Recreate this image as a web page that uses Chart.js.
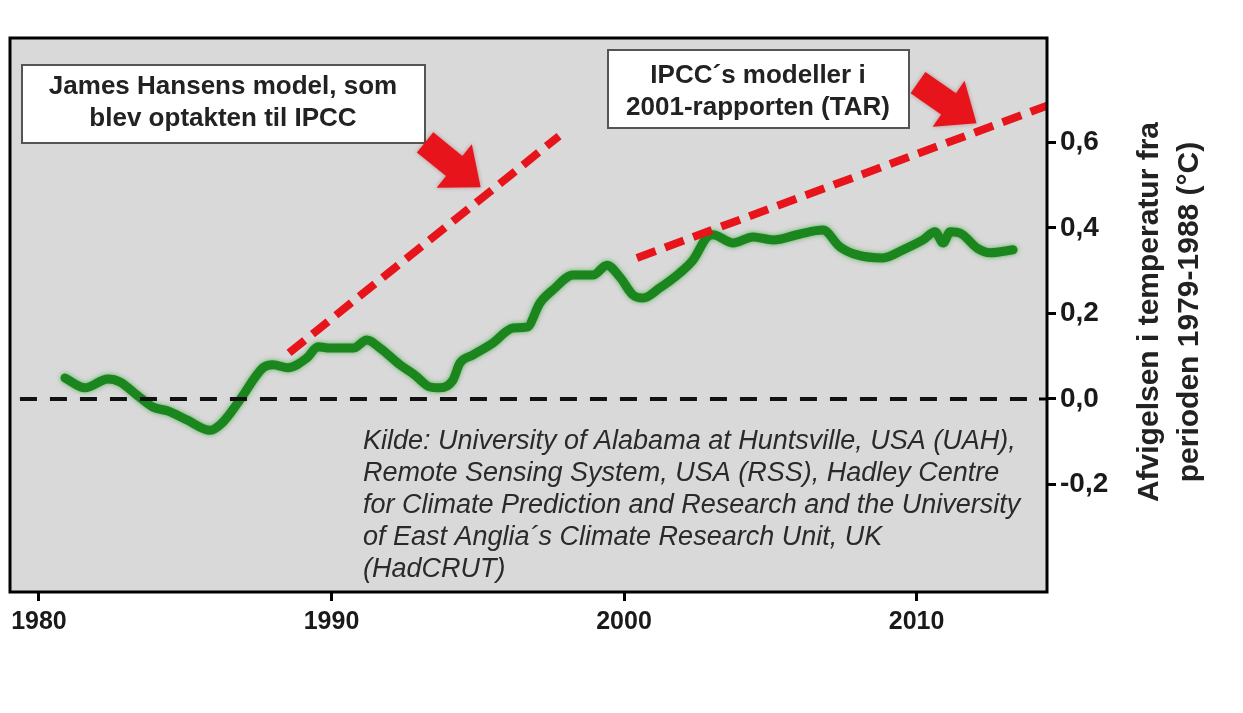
<!DOCTYPE html>
<html lang="da">
<head>
    <meta charset="UTF-8">
    <title>Temperaturafvigelse 1980-2013</title>
    <script src="https://cdn.jsdelivr.net/npm/chart.js"></script>
    <style>
        body { margin: 0; background: #fff; }
    </style>
</head>
<body>
    <canvas id="tempChart" width="1243" height="713"></canvas>

    <script>
        // Målt temperaturafvigelse (glattet)
        const years = [
            1980.89, 1981.57, 1982.36, 1982.77, 1983.35, 1983.90, 1984.41, 1985.06, 1985.85, 1986.26,
            1986.87, 1987.66, 1988.00, 1988.51, 1989.16, 1989.54, 1989.95, 1990.74, 1991.21, 1991.66,
            1992.34, 1992.85, 1993.37, 1993.71, 1994.15, 1994.39, 1994.84, 1995.52, 1996.21, 1996.68,
            1997.13, 1997.57, 1998.26, 1998.94, 1999.42, 1999.86, 2000.31, 2000.65, 2001.23, 2001.91,
            2002.36, 2002.84, 2003.04, 2003.73, 2004.41, 2005.09, 2006.02, 2006.80, 2007.38, 2007.97,
            2008.85, 2009.54, 2010.22, 2010.63, 2010.91, 2011.15, 2011.49, 2012.07, 2012.51, 2013.30
        ];
        const anomaly = [
            0.049, 0.026, 0.047, 0.040, 0.009, -0.019, -0.028, -0.049, -0.073, -0.056,
            -0.002, 0.073, 0.080, 0.073, 0.096, 0.122, 0.119, 0.119, 0.138, 0.119,
            0.080, 0.056, 0.028, 0.026, 0.044, 0.084, 0.103, 0.131, 0.166, 0.168,
            0.225, 0.255, 0.290, 0.290, 0.313, 0.285, 0.243, 0.236, 0.260, 0.295,
            0.325, 0.379, 0.384, 0.365, 0.379, 0.372, 0.386, 0.395, 0.356, 0.337,
            0.330, 0.349, 0.372, 0.391, 0.365, 0.391, 0.388, 0.353, 0.342, 0.349
        ];

        // Modelfremskrivninger (røde stiplede linjer)
        const hansenYears = [1988.55, 1997.78];
        const hansenValues = [0.108, 0.615];
        const tarYears = [2000.44, 2014.46];
        const tarValues = [0.330, 0.686];

        // Nul-linjen
        const zeroYears = [1979.35, 2014.2];
        const zeroValues = [0, 0];

        const xTicks = [1980, 1990, 2000, 2010];
        const yTicks = [-0.2, 0, 0.2, 0.4, 0.6];

        const hansenText = ['James Hansens model, som', 'blev optakten til IPCC'];
        const tarText = ['IPCC´s modeller i', '2001-rapporten (TAR)'];
        const sourceText = [
            'Kilde: University of Alabama at Huntsville, USA (UAH),',
            'Remote Sensing System, USA (RSS), Hadley Centre',
            'for Climate Prediction and Research and the University',
            'of East Anglia´s Climate Research Unit, UK',
            '(HadCRUT)'
        ];
        const yTitle = ['Afvigelsen i temperatur fra', 'perioden 1979-1988 (°C)'];

        const FONT = "'Liberation Sans', Arial, sans-serif";

        function pts(xs, ys) {
            return xs.map((x, i) => ({ x: x, y: ys[i] }));
        }

        function drawArrow(ctx, x1, y1, x2, y2) {
            const len = Math.hypot(x2 - x1, y2 - y1);
            const ang = Math.atan2(y2 - y1, x2 - x1);
            const sw = 13, hw = 28, hl = 34;
            ctx.save();
            ctx.translate(x1, y1);
            ctx.rotate(ang);
            ctx.beginPath();
            ctx.moveTo(0, -sw);
            ctx.lineTo(len - hl, -sw);
            ctx.lineTo(len - hl, -hw);
            ctx.lineTo(len, 0);
            ctx.lineTo(len - hl, hw);
            ctx.lineTo(len - hl, sw);
            ctx.lineTo(0, sw);
            ctx.closePath();
            ctx.shadowColor = 'rgba(120,0,0,0.35)';
            ctx.shadowBlur = 4;
            ctx.fillStyle = '#e8141c';
            ctx.fill();
            ctx.restore();
        }

        function textBox(ctx, x, y, lines, left, top, right, bottom) {
            ctx.save();
            ctx.fillStyle = '#fff';
            ctx.fillRect(left, top, right - left, bottom - top);
            ctx.strokeStyle = '#555';
            ctx.lineWidth = 2;
            ctx.strokeRect(left, top, right - left, bottom - top);
            ctx.fillStyle = '#222';
            ctx.font = 'bold 26px ' + FONT;
            ctx.textAlign = 'center';
            ctx.textBaseline = 'middle';
            lines.forEach((t, i) => ctx.fillText(t, x, y + i * 32));
            ctx.restore();
        }

        const decor = {
            id: 'decor',
            beforeDraw(chart) {
                const { ctx, chartArea: a } = chart;
                ctx.save();
                ctx.fillStyle = '#d9d9d9';
                ctx.fillRect(a.left, a.top, a.right - a.left, a.bottom - a.top);
                ctx.restore();
            },
            beforeDatasetDraw(chart, args) {
                if (args.index === 0) {
                    chart.ctx.shadowColor = 'rgba(40,160,40,0.7)';
                    chart.ctx.shadowBlur = 5;
                }
            },
            afterDatasetDraw(chart) {
                chart.ctx.shadowColor = 'transparent';
                chart.ctx.shadowBlur = 0;
            },
            afterDraw(chart) {
                const { ctx, chartArea: a, scales } = chart;
                const X = v => scales.x.getPixelForValue(v);
                const Y = v => scales.y.getPixelForValue(v);

                // ramme
                ctx.save();
                ctx.strokeStyle = '#000';
                ctx.lineWidth = 3;
                ctx.strokeRect(a.left, a.top, a.right - a.left, a.bottom - a.top);
                ctx.beginPath();
                ctx.moveTo(a.right - 8, Y(0));
                ctx.lineTo(a.right, Y(0));
                ctx.stroke();
                ctx.restore();

                // tekstbokse
                textBox(ctx, 223, 87, hansenText, 22, 65, 425, 143);
                textBox(ctx, 758, 76, tarText, 608, 50, 909, 128);

                // pile
                drawArrow(ctx, X(1993.2), Y(0.600), X(1995.1), Y(0.495));
                drawArrow(ctx, X(2010.05), Y(0.740), X(2012.05), Y(0.645));

                // kilde
                ctx.save();
                ctx.fillStyle = '#2a2a2a';
                ctx.font = 'italic 27px ' + FONT;
                ctx.textAlign = 'left';
                ctx.textBaseline = 'middle';
                sourceText.forEach((t, i) => ctx.fillText(t, 363, 441 + i * 32));
                ctx.restore();

                // y-aksetitel
                ctx.save();
                ctx.fillStyle = '#222';
                ctx.font = 'bold 30px ' + FONT;
                ctx.textAlign = 'center';
                ctx.textBaseline = 'middle';
                yTitle.forEach((t, i) => {
                    ctx.save();
                    ctx.translate(1150 + i * 40, 312);
                    ctx.rotate(-Math.PI / 2);
                    ctx.fillText(t, 0, 0);
                    ctx.restore();
                });
                ctx.restore();
            }
        };

        const ctxTemp = document.getElementById('tempChart').getContext('2d');

        const tempChart = new Chart(ctxTemp, {
            type: 'line',
            data: {
                datasets: [
                    {
                        label: 'Målt temperatur',
                        data: pts(years, anomaly),
                        borderColor: '#1a861d',
                        borderWidth: 9,
                        borderJoinStyle: 'round',
                        borderCapStyle: 'round',
                        cubicInterpolationMode: 'monotone',
                        pointRadius: 0,
                        order: 3
                    },
                    {
                        label: 'Hansen',
                        data: pts(hansenYears, hansenValues),
                        borderColor: '#e8141c',
                        borderWidth: 8,
                        borderDash: [20, 10],
                        pointRadius: 0,
                        order: 2
                    },
                    {
                        label: 'TAR',
                        data: pts(tarYears, tarValues),
                        borderColor: '#e8141c',
                        borderWidth: 8,
                        borderDash: [20, 10],
                        pointRadius: 0,
                        order: 2
                    },
                    {
                        label: 'Nul',
                        data: pts(zeroYears, zeroValues),
                        borderColor: '#111',
                        borderWidth: 4,
                        borderDash: [17, 13],
                        pointRadius: 0,
                        order: 1
                    }
                ]
            },
            options: {
                responsive: false,
                animation: false,
                devicePixelRatio: 1,
                layout: { padding: { left: 10, top: 38, right: 0, bottom: 0 } },
                plugins: {
                    legend: { display: false },
                    tooltip: { enabled: false }
                },
                scales: {
                    x: {
                        type: 'linear',
                        min: 1979.01,
                        max: 2014.46,
                        afterBuildTicks: s => { s.ticks = xTicks.map(v => ({ value: v })); },
                        afterFit: s => { s.height = 121; },
                        grid: { drawOnChartArea: false, drawTicks: true, tickLength: 9, color: '#000', lineWidth: 3 },
                        border: { display: false },
                        ticks: {
                            color: '#1a1a1a',
                            padding: 6,
                            maxRotation: 0,
                            font: { family: FONT, size: 25, weight: 'bold' },
                            callback: v => String(v)
                        }
                    },
                    y: {
                        position: 'right',
                        min: -0.4515,
                        max: 0.8444,
                        afterBuildTicks: s => { s.ticks = yTicks.map(v => ({ value: v })); },
                        afterFit: s => { s.width = 196; },
                        grid: { drawOnChartArea: false, drawTicks: true, tickLength: 9, color: '#000', lineWidth: 3 },
                        border: { display: false },
                        ticks: {
                            color: '#1a1a1a',
                            padding: 4,
                            font: { family: FONT, size: 28, weight: 'bold' },
                            callback: v => v.toFixed(1).replace('.', ',')
                        }
                    }
                }
            },
            plugins: [decor]
        });
    </script>
</body>
</html>
